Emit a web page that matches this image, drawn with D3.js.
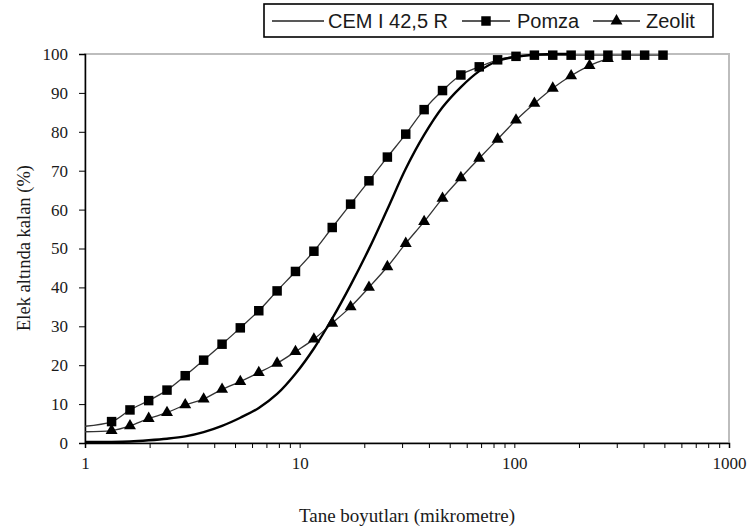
<!DOCTYPE html>
<html>
<head>
<meta charset="utf-8">
<script src="https://cdn.jsdelivr.net/npm/d3@7"></script>
<style>
  body { margin: 0; background: #fff; }
  svg { display: block; }
</style>
</head>
<body>
<svg id="chart" width="755" height="530"></svg>
<script>
// Particle size (µm) for each measurement step
const sizes = [0.9, 1.33, 1.62, 1.98, 2.41, 2.93, 3.57, 4.35, 5.29, 6.45, 7.85,
  9.56, 11.65, 14.18, 17.27, 21.03, 25.62, 31.2, 38.0, 46.28, 56.36, 68.64,
  83.6, 101.8, 124.0, 151.0, 183.9, 224.0, 272.8, 332.2, 404.6, 492.7];

// Cumulative passing (%) per material, aligned with sizes (null = no reading)
const cemValues = [0.3, 0.3, 0.4, 0.7, 1.1, 1.7, 2.8, 4.4, 6.5, 9.0, 12.6,
  17.8, 24.3, 32.0, 40.6, 49.9, 60.1, 70.5, 79.2, 86.3, 91.5, 95.6,
  98.2, 99.3, 99.8, 100, 100, null, null, null, null, null];
const pomzaValues = [4.1, 5.5, 8.5, 10.9, 13.6, 17.3, 21.3, 25.4, 29.6, 34.0, 39.1,
  44.1, 49.3, 55.4, 61.4, 67.4, 73.5, 79.4, 85.7, 90.6, 94.6, 96.7,
  98.5, 99.4, 99.7, 99.7, 99.7, 99.7, 99.7, 99.7, 99.7, 99.7];
const zeolitValues = [2.9, 3.2, 4.4, 6.3, 7.8, 9.8, 11.3, 13.8, 15.8, 18.1, 20.5,
  23.5, 26.7, 30.8, 35.0, 40.0, 45.3, 51.3, 56.9, 62.9, 68.2, 73.2,
  78.1, 83.0, 87.3, 91.2, 94.4, 97.0, 98.8, null, null, null];

const xTickLabels = [1, 10, 100, 1000];
const yTickValues = [0, 10, 20, 30, 40, 50, 60, 70, 80, 90, 100];
const legendNames = ["CEM I 42,5 R", "Pomza", "Zeolit"];

(function draw() {
  const svg = d3.select("#chart");
  const plotLeft = 85, plotRight = 729, plotTop = 54, plotBottom = 443;

  const x = d3.scaleLog().domain([1, 1000]).range([plotLeft, plotRight]);
  const y = d3.scaleLinear().domain([0, 100]).range([plotBottom, plotTop]);

  const serif = "'Liberation Serif', 'Times New Roman', serif";
  const sans = "'Liberation Sans', Arial, sans-serif";

  // Plot frame (light grey top/right edges)
  svg.append("rect")
    .attr("x", plotLeft).attr("y", plotTop)
    .attr("width", plotRight - plotLeft).attr("height", plotBottom - plotTop)
    .attr("fill", "none").attr("stroke", "#bdbdbd").attr("stroke-width", 2);

  svg.append("defs").append("clipPath").attr("id", "plot-clip")
    .append("rect").attr("x", plotLeft).attr("y", plotTop - 8)
    .attr("width", plotRight - plotLeft + 8).attr("height", plotBottom - plotTop + 8);

  // Axes
  const xAxis = d3.axisBottom(x)
    .tickValues(x.ticks())
    .tickSize(5).tickPadding(9)
    .tickFormat(d => xTickLabels.includes(d) ? String(d) : "");
  const gx = svg.append("g").attr("transform", `translate(0,${plotBottom})`).call(xAxis);

  const yAxis = d3.axisLeft(y).tickValues(yTickValues).tickSize(6).tickPadding(11);
  const gy = svg.append("g").attr("transform", `translate(${plotLeft},0)`).call(yAxis);

  [gx, gy].forEach(g => {
    g.select(".domain").attr("stroke", "#000").attr("stroke-width", 1.5);
    g.selectAll(".tick line").attr("stroke", "#000").attr("stroke-width", 1);
    g.selectAll(".tick text")
      .attr("fill", "#1a1a1a")
      .style("font-family", serif).style("font-size", "17px");
  });

  // Series lines
  const plot = svg.append("g").attr("clip-path", "url(#plot-clip)");

  function pointsOf(values) {
    return sizes.map((s, i) => ({ s, v: values[i] })).filter(p => p.v !== null);
  }

  const line = d3.line()
    .x(p => x(p.s)).y(p => y(p.v))
    .curve(d3.curveCatmullRom.alpha(0.5));

  plot.append("path").datum(pointsOf(pomzaValues))
    .attr("d", line).attr("fill", "none")
    .attr("stroke", "#333").attr("stroke-width", 1.3);
  plot.append("path").datum(pointsOf(zeolitValues))
    .attr("d", line).attr("fill", "none")
    .attr("stroke", "#333").attr("stroke-width", 1.3);
  plot.append("path").datum(pointsOf(cemValues))
    .attr("d", line).attr("fill", "none")
    .attr("stroke", "#000").attr("stroke-width", 2.4);

  // Markers
  const squareSym = d3.symbol().type(d3.symbolSquare).size(90);
  const triSym = d3.symbol().type(d3.symbolTriangle).size(62);

  plot.selectAll(".pomza-mark").data(pointsOf(pomzaValues)).join("path")
    .attr("class", "pomza-mark")
    .attr("d", squareSym)
    .attr("transform", p => `translate(${x(p.s)},${y(p.v)})`)
    .attr("fill", "#000");

  plot.selectAll(".zeolit-mark").data(pointsOf(zeolitValues)).join("path")
    .attr("class", "zeolit-mark")
    .attr("d", triSym)
    .attr("transform", p => `translate(${x(p.s)},${y(p.v)})`)
    .attr("fill", "#000");

  // Axis titles
  svg.append("text")
    .attr("x", (plotLeft + plotRight) / 2).attr("y", 522)
    .attr("text-anchor", "middle")
    .style("font-family", serif).style("font-size", "19px").attr("fill", "#1a1a1a")
    .text("Tane boyutları (mikrometre)");

  svg.append("text")
    .attr("transform", "translate(30,248) rotate(-90)")
    .attr("text-anchor", "middle")
    .style("font-family", serif).style("font-size", "18.5px").attr("fill", "#1a1a1a")
    .text("Elek altında kalan (%)");

  // Legend
  const lg = svg.append("g");
  lg.append("rect").attr("x", 264).attr("y", 4).attr("width", 449).attr("height", 33)
    .attr("fill", "#fff").attr("stroke", "#000").attr("stroke-width", 1.6);

  const ly = 21;
  const legendItems = [
    { name: legendNames[0], x0: 272, x1: 324, tx: 328, mark: null },
    { name: legendNames[1], x0: 462, x1: 510, tx: 517, mark: squareSym },
    { name: legendNames[2], x0: 593, x1: 640, tx: 646, mark: triSym }
  ];
  legendItems.forEach(it => {
    lg.append("line").attr("x1", it.x0).attr("x2", it.x1).attr("y1", ly).attr("y2", ly)
      .attr("stroke", "#222").attr("stroke-width", 1.3);
    if (it.mark) {
      lg.append("path").attr("d", it.mark)
        .attr("transform", `translate(${(it.x0 + it.x1) / 2},${ly})`).attr("fill", "#000");
    }
    lg.append("text").attr("x", it.tx).attr("y", ly + 7)
      .style("font-family", sans).style("font-size", "20px").attr("fill", "#1a1a1a")
      .text(it.name);
  });
})();
</script>
</body>
</html>
